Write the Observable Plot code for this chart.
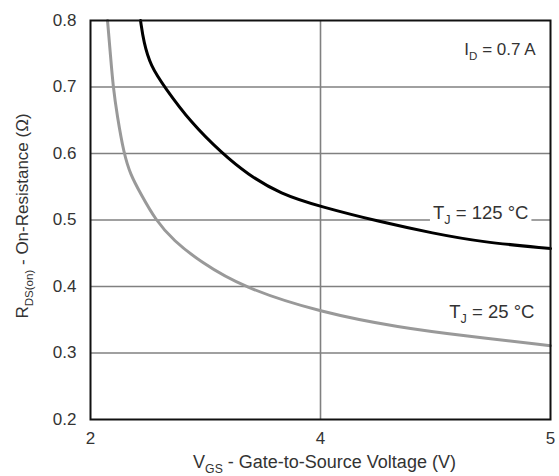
<!DOCTYPE html>
<html><head><meta charset="utf-8">
<script src="https://cdn.jsdelivr.net/npm/d3@7"></script>
<script src="https://cdn.jsdelivr.net/npm/@observablehq/plot@0.6"></script>
<style>body{margin:0;background:#fff}</style>
</head><body><div id="chart"></div>
<script>
// T_J = 125 °C curve
const vgs125 = [2.435, 2.463, 2.522, 2.643, 2.870, 3.145, 3.363, 3.652, 4.0, 4.261, 4.491, 4.696, 5.0];
const rds125 = [0.800, 0.767, 0.732, 0.700, 0.647, 0.600, 0.569, 0.539, 0.520, 0.497, 0.480, 0.467, 0.457];
// T_J = 25 °C curve
const vgs25 = [2.148, 2.174, 2.197, 2.232, 2.290, 2.348, 2.435, 2.565, 2.722, 2.957, 3.319, 4.0, 4.348, 4.622, 5.0];
const rds25 = [0.800, 0.747, 0.700, 0.657, 0.600, 0.568, 0.540, 0.500, 0.469, 0.437, 0.399, 0.361, 0.338, 0.326, 0.311];

const xTicks = [2, 4, 5];
const yTicks = [0.2, 0.3, 0.4, 0.5, 0.6, 0.7, 0.8];
const xGrid = [4];
const yGrid = [0.3, 0.4, 0.5, 0.6, 0.7];
const xLabel = "V_{GS} - Gate-to-Source Voltage (V)";
const yLabel = "R_{DS(on)} - On-Resistance (Ω)";
const condText = ["I_{D} = 0.7 A"];
const condX = [4.935];
const condY = [0.748];
const curveText = ["T_{J} = 125 °C", "T_{J} = 25 °C"];
const curveX = [4.904, 4.93];
const curveY = [0.502, 0.353];

const W = 559, H = 476, mL = 90, mR = 9, mT = 20, mB = 57;
const t125 = vgs125.map((v, i) => ({vgs: v, rds: rds125[i]}));
const t25 = vgs25.map((v, i) => ({vgs: v, rds: rds25[i]}));
const cond = condText.map((t, i) => ({t, x: condX[i], y: condY[i]}));
const curveLabels = curveText.map((t, i) => ({t, x: curveX[i], y: curveY[i]}));

const plot = Plot.plot({
  width: W, height: H,
  marginLeft: mL, marginRight: mR, marginTop: mT, marginBottom: mB,
  style: {fontFamily: "'Liberation Sans', Arial, sans-serif", fontSize: "16px", color: "#333", background: "#fff"},
  x: {type: "linear", domain: [2, 4, 5], range: [mL, (mL + W - mR) / 2, W - mR]},
  y: {domain: [0.2, 0.8]},
  marks: [
    Plot.ruleY(yGrid, {stroke: "#808080", strokeWidth: 1.6}),
    Plot.ruleX(xGrid, {stroke: "#808080", strokeWidth: 1.6}),
    Plot.axisX({ticks: xTicks, tickSize: 0, tickPadding: 12, tickFormat: d => String(d), fontSize: 17, label: null}),
    Plot.axisY({ticks: yTicks, tickSize: 0, tickPadding: 14, tickFormat: d3.format(".1f"), fontSize: 17, label: null}),
    Plot.text([xLabel], {frameAnchor: "bottom", textAnchor: "middle", lineAnchor: "bottom", dy: 48, dx: 4, fontSize: 18, fill: "#333"}),
    Plot.text([yLabel], {frameAnchor: "left", textAnchor: "middle", lineAnchor: "middle", rotate: -90, dx: -68, dy: -4, fontSize: 17, fill: "#333"}),
    Plot.text(cond, {x: "x", y: "y", text: "t", textAnchor: "end", lineAnchor: "bottom", fontSize: 17, fill: "#333"}),
    Plot.text(curveLabels, {x: "x", y: "y", text: "t", textAnchor: "end", lineAnchor: "bottom", fontSize: 18.5, fill: "#333", className: "curve-label"}),
    Plot.line(t25, {x: "vgs", y: "rds", stroke: "#999", strokeWidth: 3, curve: "basis"}),
    Plot.line(t125, {x: "vgs", y: "rds", stroke: "#000", strokeWidth: 3, curve: "basis"}),
    Plot.frame({stroke: "#111", strokeWidth: 2})
  ]
});

function subscriptify(svg) {
  d3.select(svg).selectAll("text").each(function () {
    const s = this.textContent;
    if (!s.includes("_{")) return;
    while (this.firstChild) this.removeChild(this.firstChild);
    const parts = s.split(/_\{([^}]*)\}/);
    parts.forEach((p, i) => {
      if (!p) return;
      const ts = d3.select(this).append("tspan").text(p);
      if (i % 2 === 1) ts.attr("font-size", "68%").attr("baseline-shift", "-0.4em");
    });
  });
}
subscriptify(plot);
document.getElementById("chart").append(plot);

// white background behind curve labels so the gridline is interrupted
d3.select(plot).selectAll(".curve-label text").each(function () {
  const b = this.getBBox();
  const r = document.createElementNS("http://www.w3.org/2000/svg", "rect");
  r.setAttribute("x", b.x - 3);
  r.setAttribute("y", b.y);
  r.setAttribute("width", b.width + 6);
  r.setAttribute("height", b.height);
  r.setAttribute("fill", "white");
  const tf = this.getAttribute("transform");
  if (tf) r.setAttribute("transform", tf);
  this.parentNode.insertBefore(r, this);
});
</script>
</body></html>
